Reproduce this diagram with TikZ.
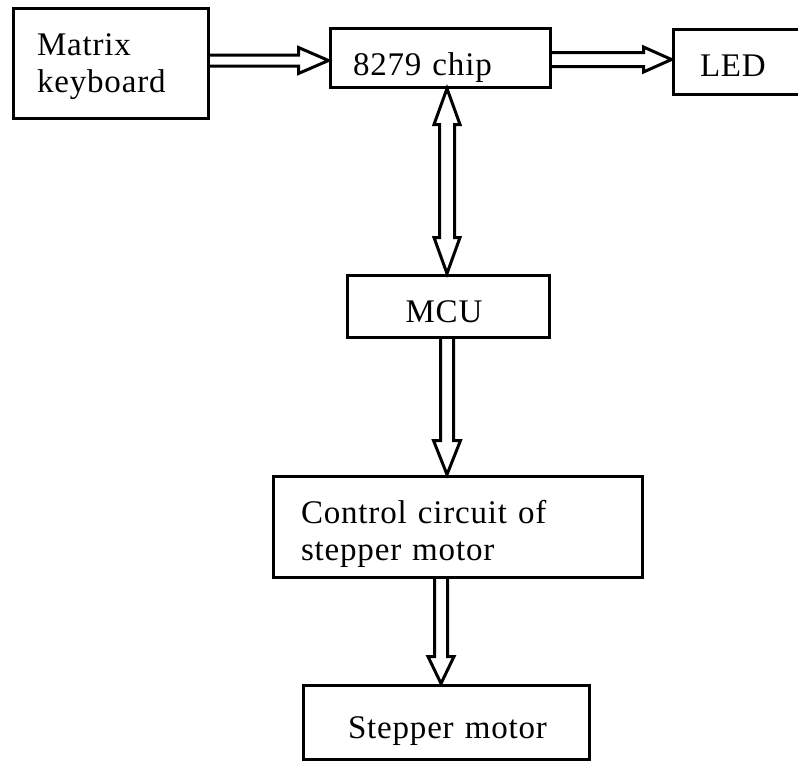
\documentclass[tikz,border=0pt]{standalone}
\usepackage{fontspec}
\newfontfamily\dfont{Liberation Serif}[LetterSpace=2.5]
\usetikzlibrary{calc}
\tikzset{
  blk/.style={draw, line width=1.5pt, rectangle, inner ysep=0pt, align=left,
    font=\dfont\fontsize{16.5pt}{18.5pt}\selectfont},
  hol/.style={draw, line width=1.5pt, line join=miter}
}
\newcommand{\lowr}[2]{\raisebox{-#1}[0pt][0pt]{#2}}
\newcommand{\atbl}[2]{\raisebox{#1}[0pt][0pt]{\begin{tabular}[t]{@{}l@{}}#2\end{tabular}}}
\begin{document}
\begin{tikzpicture}[x=0.5pt,y=-0.5pt]
\useasboundingbox (0,0) rectangle (798,761);
\clip (0,0) rectangle (798,761);
\fill[white] (0,0) rectangle (798,761);

\node[blk, minimum width=97.5pt, minimum height=55pt, inner xsep=12pt, text width=73.5pt] (matrix) at (110.5,63) {\atbl{4pt}{Matrix\\keyboard}};
\node[blk, minimum width=110pt, minimum height=29.5pt, inner xsep=11.5pt, text width=87pt] (chip) at (440,57.5) {\lowr{8.75pt}{8279 chip}};
\node[blk, minimum width=70pt, minimum height=32.5pt, inner xsep=13.5pt, text width=43pt] (led) at (743,61.5) {\lowr{7.25pt}{LED}};
\node[blk, minimum width=101pt, minimum height=31pt, inner xsep=10pt, text width=81pt, align=center] (mcu) at (448,306) {\lowr{8pt}{\hspace*{-4pt}MCU}};
\node[blk, minimum width=184.5pt, minimum height=50.5pt, inner xsep=14pt, text width=156.5pt] (control) at (457.5,526.5) {\atbl{1.75pt}{Control circuit of\\stepper motor}};
\node[blk, minimum width=143pt, minimum height=37pt, inner xsep=22.5pt, text width=98pt] (stepper) at (446,722) {\lowr{8pt}{Stepper motor}};

% matrix -> chip
\coordinate (a1) at ($(matrix.east)+(0,-2.5)$);
\coordinate (b1) at (a1 -| chip.west);
\draw[hol] ($(a1)+(0,-5.5)$) -- ($(b1)+(-30,-5.5)$) -- ($(b1)+(-30,-13)$) -- (b1)
  -- ($(b1)+(-30,13)$) -- ($(b1)+(-30,5.5)$) -- ($(a1)+(0,5.5)$);

% chip -> led
\coordinate (a2) at ($(chip.east)+(0,2)$);
\coordinate (b2) at (a2 -| led.west);
\draw[hol] ($(a2)+(0,-7)$) -- ($(b2)+(-28,-7)$) -- ($(b2)+(-28,-12.5)$) -- (b2)
  -- ($(b2)+(-28,12.5)$) -- ($(b2)+(-28,7)$) -- ($(a2)+(0,7)$);

% chip <-> mcu
\coordinate (b3) at ($(mcu.north)+(-1,0)$);
\coordinate (a3) at (b3 |- chip.south);
\draw[hol] (a3) -- ($(a3)+(13,36)$) -- ($(a3)+(7.5,36)$) -- ($(b3)+(7.5,-36)$)
  -- ($(b3)+(13,-36)$) -- (b3) -- ($(b3)+(-13,-36)$) -- ($(b3)+(-7.5,-36)$)
  -- ($(a3)+(-7.5,36)$) -- ($(a3)+(-13,36)$) -- cycle;

% mcu -> control
\coordinate (a4) at ($(mcu.south)+(-1,0)$);
\coordinate (b4) at (a4 |- control.north);
\draw[hol] ($(a4)+(-6.5,0)$) -- ($(b4)+(-6.5,-34)$) -- ($(b4)+(-13.5,-34)$) -- (b4)
  -- ($(b4)+(13.5,-34)$) -- ($(b4)+(6.5,-34)$) -- ($(a4)+(6.5,0)$);

% control -> stepper
\coordinate (a5) at ($(control.south)+(-16.5,0)$);
\coordinate (b5) at (a5 |- stepper.north);
\draw[hol] ($(a5)+(-6.5,0)$) -- ($(b5)+(-6.5,-27)$) -- ($(b5)+(-13,-27)$) -- (b5)
  -- ($(b5)+(13,-27)$) -- ($(b5)+(6.5,-27)$) -- ($(a5)+(6.5,0)$);
\end{tikzpicture}
\end{document}
